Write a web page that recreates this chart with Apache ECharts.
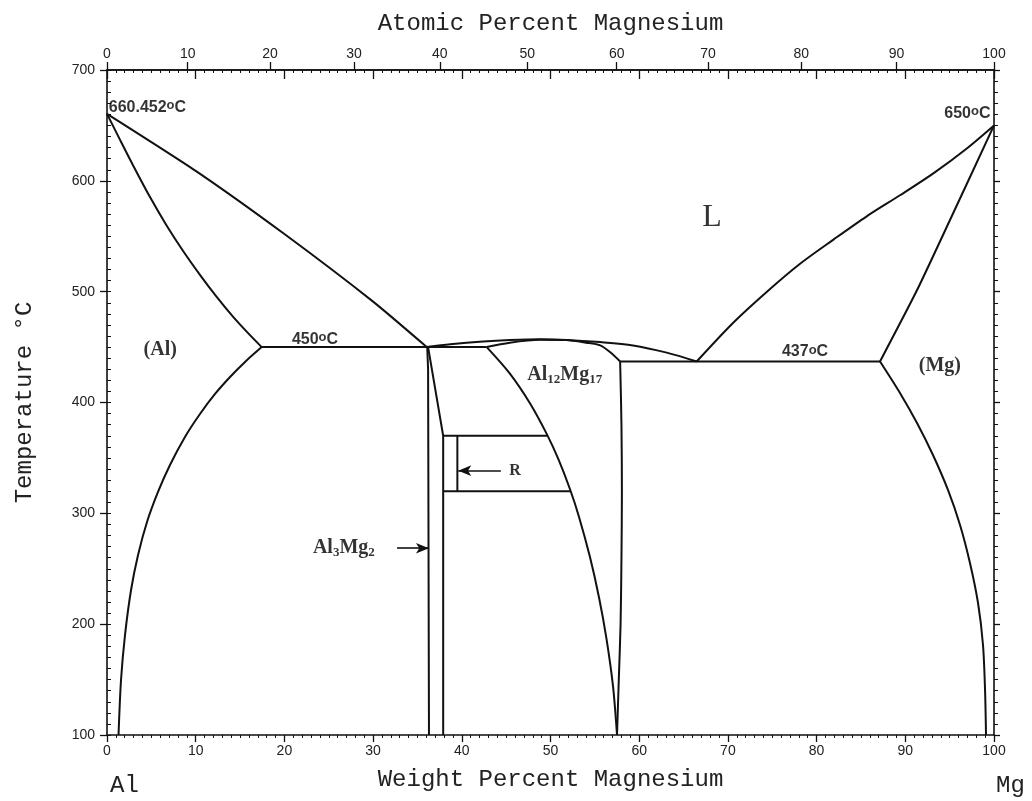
<!DOCTYPE html>
<html>
<head>
<meta charset="utf-8">
<script src="https://cdn.jsdelivr.net/npm/echarts@6/dist/echarts.min.js"></script>
<style>
html,body{margin:0;padding:0;background:#fff;}
#chart{width:1032px;height:801px;}
</style>
</head>
<body>
<div id="chart"></div>
<script>
// ---------- data (weight % Mg, temperature °C) ----------
const liquidusAl   = [[0,660.452],[10,609],[20,552],[30,491],[36.05,450]];
const solidusAl    = [[0,660.452],[1.5,636.5],[3.0,613],[4.8,586],[6.7,560],[8.6,536.5],[10.5,515],[12.3,496],[14.2,477.5],[15.8,463.5],[17.44,450]];
const solvusAl     = [[17.44,450],[15.56,436.6],[13.87,423],[12.18,407.7],[10.48,389.6],[8.79,368.9],[7.1,343.6],[5.75,319.3],[4.51,292.2],[3.5,262.4],[2.71,230.8],[2.03,190.2],[1.58,149.6],[1.3,100]];
const eutectic450  = [[17.44,450],[42.81,450]];
const beta1        = [[36.1,450],[36.2,430],[36.3,100]];
const beta2        = [[36.2,450],[37.9,370],[37.9,100]];
const rTop         = [[37.9,370],[49.7,370]];
const rBottom      = [[37.9,320],[52.25,320]];
const rInner       = [[39.5,370],[39.5,320]];
const gammaLeft    = [[42.81,450],[45.4,426.3],[47.7,399.1],[49.6,371.2],[50.9,348.6],[52.2,321.7],[53.2,297.2],[54.45,260.5],[55.47,224.1],[56.3,187.4],[57.05,143.8],[57.5,100]];
const gammaRight   = [[57.85,437],[58.0,380],[58.05,320],[58.0,260],[57.9,200],[57.7,150],[57.5,100]];
const liquidusDome = [[36.05,450],[38.7,452.5],[42.4,455],[45.4,456.3],[48.8,457],[51.8,456.5],[55.6,454.5],[59.3,451.5],[63.1,445],[66.48,437]];
const solidusGamma = [[42.81,450],[45.4,454],[48.8,456.6],[51.8,456.3],[54,454],[55.6,451.5],[56.7,445.5],[57.85,437]];
const eutectic437  = [[57.85,437],[87.15,437]];
const liquidusMg   = [[66.48,437],[70.6,472],[74.4,500],[78.1,525],[81.9,547],[85.65,568],[89.4,587],[93.2,607],[96.9,629],[100,650]];
const solidusMg    = [[87.15,437],[91.3,501],[95.0,564],[100,650]];
const solvusMg     = [[87.15,437],[89.4,408.6],[91.32,381.5],[93.12,352.6],[94.81,321.1],[96.17,289.5],[97.29,255.2],[98.2,219.1],[98.76,181.2],[98.99,140.6],[99.1,100]];
const arrowR       = [[44.4,338.5],[39.6,338.5]];
const arrowBeta    = [[32.7,268.5],[36.3,268.5]];

// axis ticks
const atomicTicks = [0,10,20,30,40,50,60,70,80,90,100];
const MG = 24.305, AL = 26.982;
const atomicPos = atomicTicks.map(a => a*MG/(a*MG+(100-a)*AL)*100);

// annotations [wt%, °C, text, align, style]
const labels = [
  [0.2, 666.5, '660.452{o|o}C', 'left', 'sans'],
  [99.6, 661, '650{o|o}C', 'right', 'sans'],
  [23.45, 456.5, '450{o|o}C', 'center', 'sans'],
  [78.7, 445.5, '437{o|o}C', 'center', 'sans'],
  [68.2, 566.5, 'L', 'center', 'big'],
  [6.0, 447.4, '(Al)', 'center', 'serif'],
  [93.9, 433, '(Mg)', 'center', 'serif'],
  [51.6, 424.8, 'Al{s|12}Mg{s|17}', 'center', 'serif'],
  [26.7, 268.7, 'Al{s|3}Mg{s|2}', 'center', 'serif'],
  [46.0, 338.2, 'R', 'center', 'small']
];

// [data, smoothness]
const curves = [
  [liquidusAl,0.2], [solidusAl,0.3], [solvusAl,0.3], [liquidusDome,0.3], [solidusGamma,0.3],
  [liquidusMg,0.3], [solidusMg,0.2], [solvusMg,0.3], [gammaLeft,0.3], [gammaRight,0.3]
];
const straights = [eutectic450, beta1, beta2, rTop, rBottom, rInner, eutectic437];

const chart = echarts.init(document.getElementById('chart'));
const BLACK = '#111';
const titleFont = {fontFamily:'Liberation Mono', fontSize:24, color:'#222'};
const tickFont = {fontFamily:'Liberation Sans', fontSize:14, color:'#222'};

function lineSeries(d, smooth){
  return {type:'line', data:d, xAxisIndex:0, yAxisIndex:0, symbol:'none',
    smooth:smooth || false, lineStyle:{color:BLACK, width:2}, silent:true, z:5};
}
const series = [];
curves.forEach(c => series.push(lineSeries(c[0], c[1])));
straights.forEach(c => series.push(lineSeries(c, 0)));
[arrowR, arrowBeta].forEach(a => series.push({
  type:'line', data:[], xAxisIndex:0, yAxisIndex:0, silent:true,
  markLine:{silent:true, symbol:['none','arrow'], symbolSize:[8,13], label:{show:false},
    lineStyle:{color:BLACK, width:1.6, type:'solid'},
    data:[[{coord:a[0]},{coord:a[1]}]]}
}));

const rich = {
  o:{fontSize:13, verticalAlign:'top', lineHeight:17, fontFamily:'Liberation Sans', fontWeight:'bold', color:'#000'},
  s:{fontSize:13, padding:[10,0,0,0], fontFamily:'Liberation Serif', fontWeight:'bold', color:'#000'}
};
const styleOf = {
  sans:{fontFamily:'Liberation Sans', fontSize:16, fontWeight:'bold', lineHeight:17},
  serif:{fontFamily:'Liberation Serif', fontSize:20, fontWeight:'bold', lineHeight:22},
  big:{fontFamily:'Liberation Serif', fontSize:32, fontWeight:'normal'},
  small:{fontFamily:'Liberation Serif', fontSize:16, fontWeight:'bold'}
};
series.push({
  type:'scatter', xAxisIndex:0, yAxisIndex:0, symbolSize:0, silent:true, z:10,
  data: labels.map(l => ({value:[l[0], l[1]], label:Object.assign({
      show:true, position:[0,0], formatter:l[2], align:l[3], verticalAlign:'middle', color:'#000', rich:rich
    }, styleOf[l[4]])}))
});

const axisLine = {show:true, onZero:false, lineStyle:{color:BLACK, width:1.6}};
chart.setOption({
  animation:false,
  backgroundColor:'#fff',
  grid:{left:107, right:38, top:70, bottom:66},
  xAxis:[
    {type:'value', position:'bottom', min:0, max:100, interval:10,
     name:'Weight Percent Magnesium', nameLocation:'middle', nameGap:33, nameTextStyle:titleFont,
     axisLine:axisLine, axisTick:{show:true, length:7, lineStyle:{color:BLACK, width:1.3}},
     minorTick:{show:true, splitNumber:10, length:3, lineStyle:{color:BLACK, width:1}},
     axisLabel:Object.assign({margin:9}, tickFont), splitLine:{show:false}, minorSplitLine:{show:false}},
    {type:'value', position:'top', min:0, max:100, interval:10,
     axisLine:axisLine, axisTick:{show:true, inside:true, length:9, lineStyle:{color:BLACK, width:1.3}},
     minorTick:{show:true, splitNumber:10, length:3, lineStyle:{color:BLACK, width:1}},
     axisLabel:{show:false}, splitLine:{show:false}},
    {type:'value', position:'top', min:0, max:100,
     name:'Atomic Percent Magnesium', nameLocation:'middle', nameGap:34, nameTextStyle:titleFont,
     axisLine:axisLine,
     axisTick:{show:true, inside:false, length:8, customValues:atomicPos, lineStyle:{color:BLACK, width:1.3}},
     axisLabel:Object.assign({margin:9, customValues:atomicPos, formatter:function(v){
        let best=0; atomicPos.forEach((p,i)=>{ if(Math.abs(p-v)<Math.abs(atomicPos[best]-v)) best=i; });
        return String(atomicTicks[best]); }}, tickFont),
     splitLine:{show:false}}
  ],
  yAxis:[
    {type:'value', position:'left', min:100, max:700, interval:100,
     name:'Temperature °C', nameLocation:'middle', nameGap:70, nameTextStyle:titleFont,
     axisLine:axisLine, axisTick:{show:true, length:7, lineStyle:{color:BLACK, width:1.3}},
     axisLabel:Object.assign({margin:12}, tickFont), splitLine:{show:false}},
    {type:'value', position:'left', min:100, max:700, interval:100,
     axisLine:{show:false}, axisTick:{show:true, inside:true, length:4, lineStyle:{color:BLACK, width:1}},
     minorTick:{show:true, splitNumber:10, length:4, lineStyle:{color:BLACK, width:1}},
     axisLabel:{show:false}, splitLine:{show:false}},
    {type:'value', position:'right', min:100, max:700, interval:100,
     axisLine:axisLine, axisTick:{show:true, length:6, lineStyle:{color:BLACK, width:1.3}},
     minorTick:{show:true, splitNumber:10, length:4, lineStyle:{color:BLACK, width:1}},
     axisLabel:{show:false}, splitLine:{show:false}}
  ],
  graphic:[
    {type:'text', left:110, top:774, style:{text:'Al', font:'24px "Liberation Mono"', fill:'#222'}},
    {type:'text', left:996, top:774, style:{text:'Mg', font:'24px "Liberation Mono"', fill:'#222'}}
  ],
  series:series
});
</script>
</body>
</html>
